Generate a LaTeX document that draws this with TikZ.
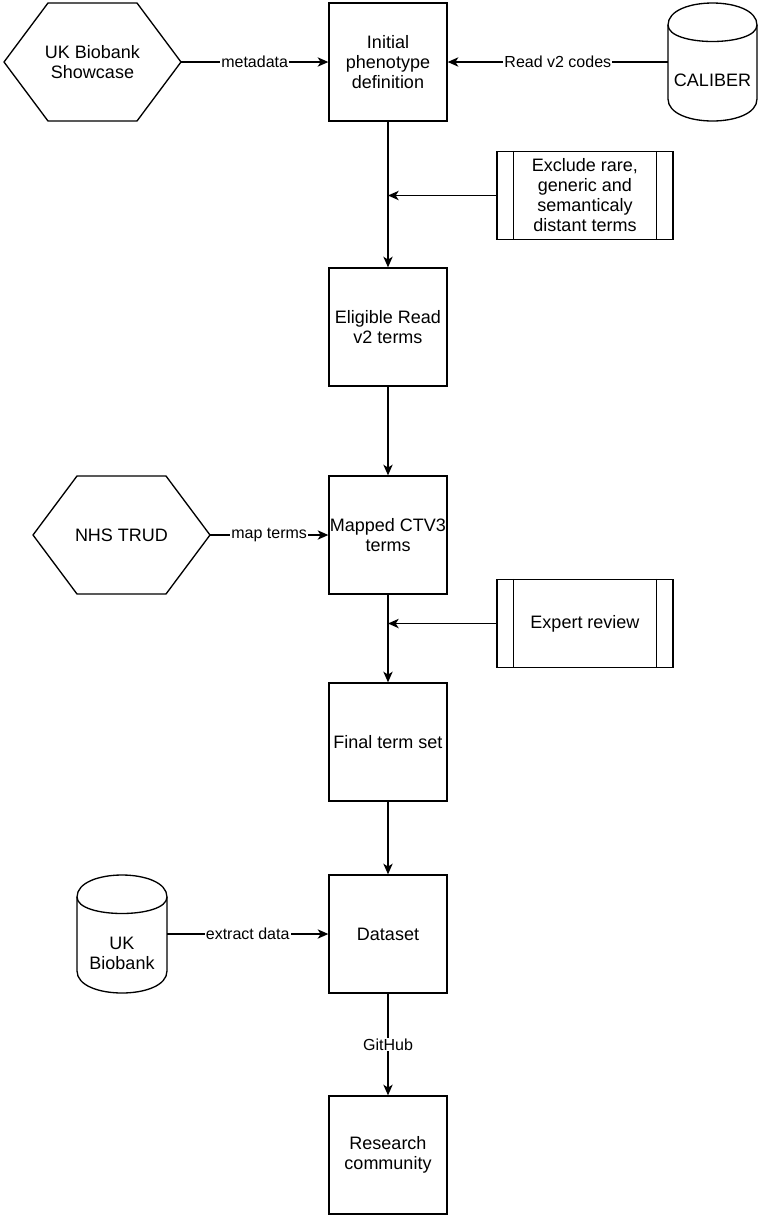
\documentclass[tikz,border=0pt]{standalone}
\usepackage{fontspec}
\setmainfont{Liberation Sans}
\usetikzlibrary{arrows.meta,calc}
\begin{document}
\begin{tikzpicture}[x=0.75pt,y=-0.75pt,
  every node/.style={font=\fontsize{13.5pt}{15pt}\selectfont, align=center},
  box/.style={draw, line width=1pt, minimum width=88.5pt, minimum height=88.5pt, inner sep=0pt},
  proc/.style={draw, line width=1pt, minimum width=132pt, minimum height=66pt, inner sep=0pt},
  ghost/.style n args={2}{minimum width=#1, minimum height=#2, inner sep=0pt, outer sep=0pt},
  shapeline/.style={line width=1pt, line join=round},
  conn/.style={line width=1pt, -{Stealth[length=8pt,width=7pt,inset=2.2pt]}},
  lbl/.style={fill=white, font=\fontsize{12pt}{14pt}\selectfont, inner sep=0.8pt}
]
\useasboundingbox (0,0) rectangle (760,1218);

% main column
\node[box] (init) at (388,62) {Initial\\phenotype\\definition};
\node[box] (elig) at (388,327) {Eligible Read\\v2 terms};
\node[box] (mapped) at (388,535) {Mapped CTV3\\terms};
\node[box] (final) at (388,742) {Final term set};
\node[box] (dataset) at (388,934) {Dataset};
\node[box] (research) at (388,1155) {Research\\community};

% hexagons
\node[ghost={132.75pt}{88.5pt}] (ukbs) at (92.5,62) {UK Biobank\\Showcase};
\draw[shapeline] (ukbs.west) -- ($(ukbs.north west)+(44,0)$) -- ($(ukbs.north east)+(-44,0)$) -- (ukbs.east) -- ($(ukbs.south east)+(-44,0)$) -- ($(ukbs.south west)+(44,0)$) -- cycle;
\node[ghost={132.75pt}{88.5pt}] (trud) at (121.5,535) {NHS TRUD};
\draw[shapeline] (trud.west) -- ($(trud.north west)+(44,0)$) -- ($(trud.north east)+(-44,0)$) -- (trud.east) -- ($(trud.south east)+(-44,0)$) -- ($(trud.south west)+(44,0)$) -- cycle;

% cylinders
\node[ghost={66.75pt}{88.5pt}] (cal) at (712.5,62) {};
\draw[shapeline] (668,25) .. controls (668,-4.33) and (757,-4.33) .. (757,25) -- (757,99) .. controls (757,128.33) and (668,128.33) .. (668,99) -- cycle;
\draw[shapeline] (668,25) .. controls (668,47) and (757,47) .. (757,25);
\node (caltext) at (712.5,80) {CALIBER};

\node[ghost={67.5pt}{88.5pt}] (ukb) at (122,934) {};
\draw[shapeline] (77,897) .. controls (77,867.67) and (167,867.67) .. (167,897) -- (167,971) .. controls (167,1000.33) and (77,1000.33) .. (77,971) -- cycle;
\draw[shapeline] (77,897) .. controls (77,919) and (167,919) .. (167,897);
\node (ukbtext) at (122,953) {UK\\Biobank};

% process boxes
\node[proc] (excl) at (585,195.5) {Exclude rare,\\generic and\\semanticaly\\distant terms};
\draw[shapeline] ($(excl.north west)+(17,0)$) -- ($(excl.south west)+(17,0)$);
\draw[shapeline] ($(excl.north east)+(-17,0)$) -- ($(excl.south east)+(-17,0)$);
\node[proc] (expert) at (585,623.5) {Expert review};
\draw[shapeline] ($(expert.north west)+(17,0)$) -- ($(expert.south west)+(17,0)$);
\draw[shapeline] ($(expert.north east)+(-17,0)$) -- ($(expert.south east)+(-17,0)$);

% connectors
\draw[conn] (ukbs.east) -- node[lbl]{metadata} (init.west);
\draw[conn] (cal.west) -- node[lbl]{Read v2 codes} (init.east);
\draw[conn] (init.south) -- (elig.north);
\draw[conn] (excl.west) -- (excl.west -| init.south);
\draw[conn] (elig.south) -- (mapped.north);
\draw[conn] (trud.east) -- node[lbl]{map terms} (mapped.west);
\draw[conn] (mapped.south) -- (final.north);
\draw[conn] (expert.west) -- (expert.west -| mapped.south);
\draw[conn] (final.south) -- (dataset.north);
\draw[conn] (ukb.east) -- node[lbl]{extract data} (dataset.west);
\draw[conn] (dataset.south) -- node[lbl]{GitHub} (research.north);
\end{tikzpicture}
\end{document}
